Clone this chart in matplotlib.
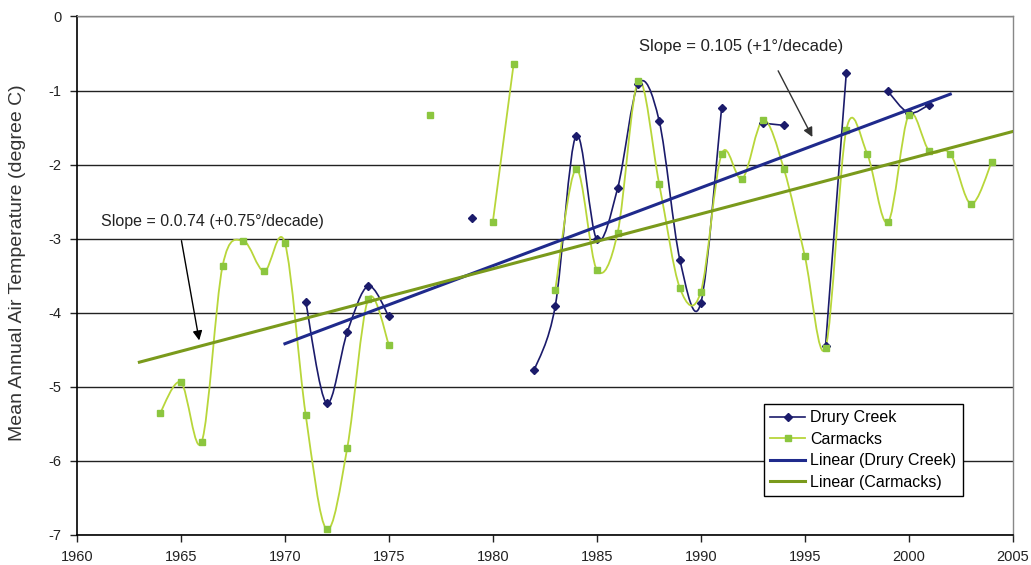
import numpy as np
import matplotlib
matplotlib.use("Agg")
import matplotlib.pyplot as plt
from matplotlib.path import Path
from matplotlib.patches import PathPatch
from matplotlib.lines import Line2D

plt.rcParams['font.family'] = ['Liberation Sans', 'DejaVu Sans']
plt.rcParams['axes.unicode_minus'] = False

# Drury Creek (np.nan = no record, breaks the line)
drury_years = [1971, 1972, 1973, 1974, 1975, 1976, 1977, 1978, 1979, 1980, 1981,
               1982, 1983, 1984, 1985, 1986, 1987, 1988, 1989, 1990, 1991, 1992,
               1993, 1994, 1995, 1996, 1997, 1998, 1999, 2000, 2001]
drury_temp = [-3.85, -5.22, -4.26, -3.64, -4.05, np.nan, np.nan, np.nan, -2.72, np.nan, np.nan,
              -4.77, -3.91, -1.61, -3.01, -2.32, -0.91, -1.41, -3.29, -3.87, -1.24, np.nan,
              -1.44, -1.47, np.nan, -4.45, -0.76, np.nan, -1.01, -1.30, -1.19]

# Carmacks
carm_years = [1964, 1965, 1966, 1967, 1968, 1969, 1970, 1971, 1972, 1973, 1974, 1975,
              1976, 1977, 1978, 1979, 1980, 1981, 1982, 1983, 1984, 1985, 1986, 1987,
              1988, 1989, 1990, 1991, 1992, 1993, 1994, 1995, 1996, 1997, 1998, 1999,
              2000, 2001, 2002, 2003, 2004]
carm_temp = [-5.35, -4.94, -5.74, -3.37, -3.03, -3.44, -3.06, -5.38, -6.92, -5.82, -3.82, -4.43,
             np.nan, -1.33, np.nan, np.nan, -2.77, -0.64, np.nan, -3.69, -2.06, -3.42, -2.92, -0.87,
             -2.26, -3.67, -3.72, -1.86, -2.19, -1.40, -2.06, -3.23, -4.47, -1.53, -1.85, -2.78,
             -1.33, -1.82, -1.85, -2.53, -1.96]

DRURY = '#1b1b6b'
CARM_LINE = '#b8d63a'
CARM_MARK = '#8cc63f'
DRURY_TREND = '#1f2a8c'
CARM_TREND = '#7a9a1c'


def smooth_path(x, y):
    # Excel-style smoothed line: cubic Bezier through the points
    verts = [(x[0], y[0])]
    codes = [Path.MOVETO]
    n = len(x)
    for i in range(n - 1):
        p0 = np.array([x[max(i - 1, 0)], y[max(i - 1, 0)]])
        p1 = np.array([x[i], y[i]])
        p2 = np.array([x[i + 1], y[i + 1]])
        p3 = np.array([x[min(i + 2, n - 1)], y[min(i + 2, n - 1)]])
        c1 = p1 + (p2 - p0) / 6
        c2 = p2 - (p3 - p1) / 6
        verts += [tuple(c1), tuple(c2), tuple(p2)]
        codes += [Path.CURVE4] * 3
    return Path(verts, codes)


def draw_series(ax, years, temps, color, lw):
    years = np.asarray(years, float)
    temps = np.asarray(temps, float)
    ok = ~np.isnan(temps)
    # split into runs of consecutive records
    run = []
    for i in range(len(years) + 1):
        if i < len(years) and ok[i]:
            run.append(i)
        else:
            if len(run) > 1:
                ax.add_patch(PathPatch(smooth_path(years[run], temps[run]), fill=False,
                                       edgecolor=color, lw=lw, zorder=3))
            run = []


fig = plt.figure(figsize=(10.31, 5.65), dpi=100)
ax = fig.add_axes([0.0747, 0.0531, 0.9075, 0.9177])

ax.set_xlim(1960, 2005)
ax.set_ylim(-7, 0)
ax.set_xticks(range(1960, 2006, 5))
ax.set_yticks(range(-7, 1))
ax.yaxis.grid(True, color='#222222', lw=1)
ax.set_axisbelow(True)
for s in ['left', 'bottom']:
    ax.spines[s].set_color('black')
    ax.spines[s].set_linewidth(1.2)
for s in ['top', 'right']:
    ax.spines[s].set_color('#888888')
    ax.spines[s].set_linewidth(1)
ax.tick_params(direction='out', length=5, width=1, labelsize=10.5, colors='#222222', pad=6)
ax.set_ylabel('Mean Annual Air Temperature (degree C)', fontsize=14, color='#333333')
ax.yaxis.set_label_coords(-0.054, 0.525)

# data lines
draw_series(ax, drury_years, drury_temp, DRURY, 1.2)
draw_series(ax, carm_years, carm_temp, CARM_LINE, 1.3)
ax.plot(drury_years, drury_temp, linestyle='none', marker='D', ms=4, color=DRURY, zorder=4)
ax.plot(carm_years, carm_temp, linestyle='none', marker='s', ms=5, color=CARM_MARK, zorder=4)

# linear trends, extended one year on each side
for years, temps, col in [(drury_years, drury_temp, DRURY_TREND), (carm_years, carm_temp, CARM_TREND)]:
    yy = np.asarray(years, float)
    tt = np.asarray(temps, float)
    ok = ~np.isnan(tt)
    k, b = np.polyfit(yy[ok], tt[ok], 1)
    xs = np.array([yy[ok].min() - 1, yy[ok].max() + 1])
    ax.plot(xs, k * xs + b, color=col, lw=2.2, zorder=5)

# slope notes
ax.text(1966.5, -2.77, 'Slope = 0.0.74 (+0.75°/decade)', ha='center', va='center',
        fontsize=11.5, color='#222222')
ax.annotate('', xy=(1965.9, -4.41), xytext=(1965.0, -2.99),
            arrowprops=dict(arrowstyle='-|>', color='black', lw=1, mutation_scale=14))
ax.text(1991.94, -0.405, 'Slope = 0.105 (+1°/decade)', ha='center', va='center',
        fontsize=12, color='#222222')
ax.annotate('', xy=(1995.43, -1.66), xytext=(1993.66, -0.70),
            arrowprops=dict(arrowstyle='-|>', color='#333333', lw=1, mutation_scale=14))

handles = [
    Line2D([], [], color=DRURY, lw=1.2, marker='D', ms=4),
    Line2D([], [], color=CARM_LINE, lw=1.3, marker='s', ms=4, mfc=CARM_MARK, mec=CARM_MARK),
    Line2D([], [], color=DRURY_TREND, lw=2.2),
    Line2D([], [], color=CARM_TREND, lw=2.2),
]
labels = ['Drury Creek', 'Carmacks', 'Linear (Drury Creek)', 'Linear (Carmacks)']
leg = ax.legend(handles, labels, loc='upper left', bbox_to_anchor=(0.734, 0.2527),
                borderaxespad=0, fancybox=False, framealpha=1, edgecolor='black',
                fontsize=11.5, handlelength=2.2, labelspacing=0.4, handletextpad=0.3)
leg.get_frame().set_linewidth(1)
leg.set_zorder(10)

fig.savefig('out.png', dpi=100)
